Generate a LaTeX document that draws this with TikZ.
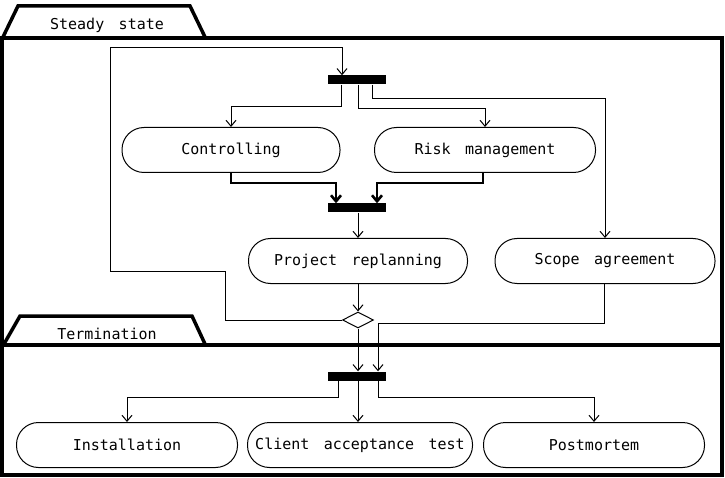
\documentclass[tikz,border=0pt]{standalone}
\usepackage{fontspec}
\newfontfamily\actfont{DejaVu Sans Mono}[WordSpace=1.6]
\usetikzlibrary{arrows.meta,shapes.geometric}

\tikzset{
  act/.style={draw, line width=1pt, rounded corners=22pt, minimum height=45pt, inner sep=0pt},
  syncbar/.style={fill=black, minimum width=58pt, minimum height=9pt, inner sep=0pt},
  decide/.style={draw, line width=1pt, diamond, aspect=2, minimum width=31pt, minimum height=16pt, inner sep=0pt},
  flow/.style={line width=1pt, -{Straight Barb[length=6pt,width=10pt]}},
  joinflow/.style={line width=2.6pt, -{Straight Barb[length=6pt,width=10pt]}},
  frame/.style={line width=3.5pt},
}

\begin{document}
\begin{tikzpicture}[x=1pt, y=-1pt, font=\actfont\fontsize{15}{18}\selectfont]
  \useasboundingbox (0,0) rectangle (725,478);

  % partitions
  \draw[frame] (2,38) rectangle (722,345);
  \draw[frame] (2,345) rectangle (722,475);
  \draw[frame, line join=miter] (3,37) -- (18,6) -- (190,6) -- (205,37);
  \draw[frame, line join=miter] (4,344) -- (20,316) -- (192,316) -- (205,344);
  \node (steady) at (107,25) {Steady state};
  \node (term)   at (107,334) {Termination};

  % steady state
  \node[syncbar] (fork) at (357,80) {};
  \node[act, minimum width=218pt] (ctrl) at (231,150) {Controlling};
  \node[act, minimum width=221pt] (risk) at (485,150) {Risk management};
  \node[syncbar] (join) at (357,208) {};
  \node[act, minimum width=219pt] (replan) at (358,261) {Project replanning};
  \node[act, minimum width=220pt] (scope) at (605,261) {Scope agreement};
  \node[decide] (dec) at (358,320) {};

  % termination
  \node[syncbar] (fork2) at (357,376) {};
  \node[act, minimum width=221pt] (inst) at (127,445) {Installation};
  \node[act, minimum width=225pt] (cat)  at (360,445) {Client acceptance test};
  \node[act, minimum width=221pt] (post) at (594,445) {Postmortem};

  \coordinate (loopA) at (225,271);
  \coordinate (loopB) at (110,48);

  \draw[flow] (dec.west) -| (loopA) -| (loopB) -| ([xshift=-15pt]fork.north);
  \draw[flow] ([xshift=-16pt]fork.south) -- ++(0,22) -| (ctrl.north);
  \draw[flow] ([xshift=1pt]fork.south) -- ++(0,24) -| (risk.north);
  \draw[flow] ([xshift=15pt]fork.south) -- ++(0,14) -| (scope.north);
  \draw[joinflow] (ctrl.south) -- ++(0,10) -| ([xshift=-21pt]join.north);
  \draw[joinflow] ([xshift=-2pt]risk.south) -- ++(0,10) -| ([xshift=20pt]join.north);
  \draw[flow] ([xshift=1pt]join.south) -- ([xshift=1pt]join.south |- replan.north);
  \draw[flow] (replan.south) -- (dec.north);
  \draw[flow] (dec.south) -- (dec.south |- fork2.north);
  \draw[flow] ([xshift=-1pt]scope.south) -- ++(0,39) -| ([xshift=21pt]fork2.north);
  \draw[flow] ([xshift=-19pt]fork2.south) -- ++(0,17) -| (inst.north);
  \draw[flow] ([xshift=1pt]fork2.south) -- ([xshift=1pt]fork2.south |- cat.north);
  \draw[flow] ([xshift=21pt]fork2.south) -- ++(0,17) -| (post.north);
\end{tikzpicture}
\end{document}
